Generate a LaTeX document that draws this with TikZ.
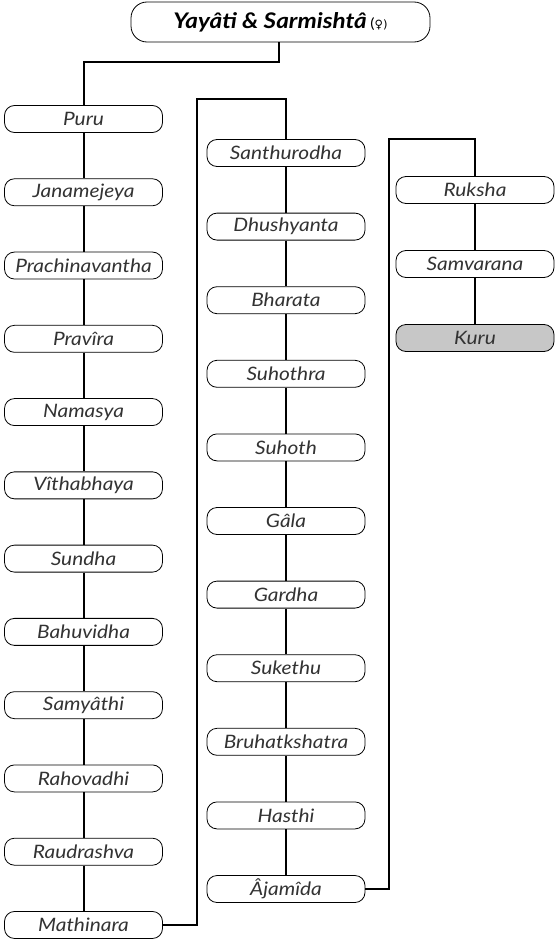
\documentclass[tikz,border=0pt]{standalone}
\usepackage{fontspec}
\setmainfont[FakeStretch=1.13]{Lato}
\newfontfamily\symfont{DejaVu Sans}
\begin{document}
\begin{tikzpicture}[x=1pt,y=-1pt,
  person/.style={draw, line width=0.8pt, rounded corners=10pt, minimum width=158pt,
    minimum height=27pt, inner sep=0pt, font=\itshape\fontsize{18.5}{18.5}\selectfont, text=black!80},
  link/.style={line width=2pt, line join=miter}]
\useasboundingbox[fill=white] (0,0) rectangle (555,942);

% couple at the head of the line
\node[draw, line width=0.8pt, rounded corners=16pt, minimum width=299pt, minimum height=40pt,
  inner sep=0pt] (top) at (280.5,22)
  {\bfseries\itshape\fontsize{21.5}{21.5}\selectfont Yayâti \& Sarmishtâ\,\normalfont\fontsize{14}{14}\selectfont(\symfont\fontsize{11.5}{11.5}\selectfont ♀)};

% first column
\foreach \n/\t [count=\i from 0] in {
  a1/Puru, a2/Janamejeya, a3/Prachinavantha, a4/Pravîra, a5/Namasya, a6/Vîthabhaya,
  a7/Sundha, a8/Bahuvidha, a9/Samyâthi, a10/Rahovadhi, a11/Raudrashva, a12/Mathinara}
  \node[person] (\n) at (83.5,119+\i*73.27) {\t};

% second column
\foreach \n/\t [count=\i from 0] in {
  b1/Santhurodha, b2/Dhushyanta, b3/Bharata, b4/Suhothra, b5/Suhoth, b6/Gâla,
  b7/Gardha, b8/Sukethu, b9/Bruhatkshatra, b10/Hasthi, b11/Âjamîda}
  \node[person] (\n) at (286,153+\i*73.6) {\t};

% third column
\node[person] (c1) at (475,190) {Ruksha};
\node[person] (c2) at (475,264) {Samvarana};
\node[person, fill=black!22] (c3) at (475,338) {Kuru};

% links inside each column
\foreach \p/\q in {a1/a2,a2/a3,a3/a4,a4/a5,a5/a6,a6/a7,a7/a8,a8/a9,a9/a10,a10/a11,a11/a12,
  b1/b2,b2/b3,b3/b4,b4/b5,b5/b6,b6/b7,b7/b8,b8/b9,b9/b10,b10/b11,c1/c2,c2/c3}
  \draw[link] (\p.south) -- (\q.north);

% links between columns
\coordinate (h0) at (0,62);
\coordinate (h1) at (197,99);
\coordinate (h2) at (389,139);
\draw[link] ([xshift=-2pt]top.south) |- (a1.north |- h0) -- (a1.north);
\draw[link] (a12.east) -- (a12.east -| h1) -- (h1) -- (b1.north |- h1) -- (b1.north);
\draw[link] (b11.east) -- (b11.east -| h2) -- (h2) -- (c1.north |- h2) -- (c1.north);
\end{tikzpicture}
\end{document}
